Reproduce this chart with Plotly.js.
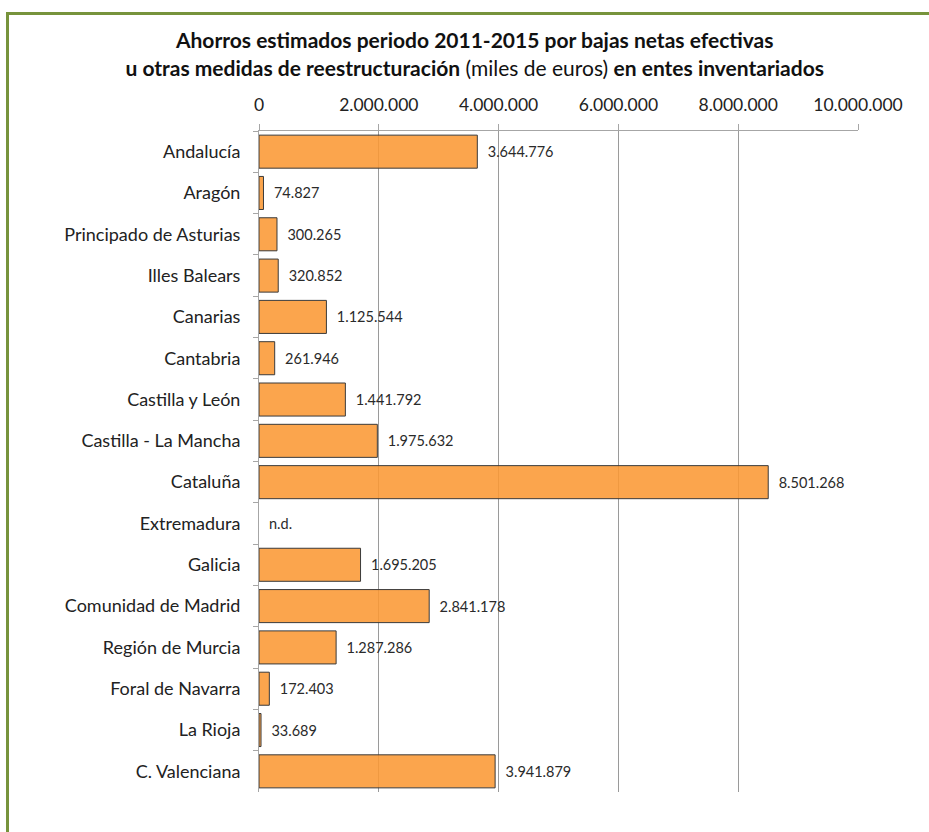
<!DOCTYPE html>
<html>
<head>
<meta charset="utf-8">
<script src="https://cdn.plot.ly/plotly-3.0.1.min.js"></script>
<style>
html,body{margin:0;padding:0;background:#fff;}
#frame{position:absolute;left:6px;top:12px;width:923px;height:820px;border-left:3px solid #77933C;border-top:3px solid #77933C;box-sizing:border-box;}
#chart{position:absolute;left:0;top:0;width:929px;height:832px;}
</style>
</head>
<body>
<div id="chart"></div>
<div id="frame"></div>
<script>
const categories = ["Andalucía","Aragón","Principado de Asturias","Illes Balears","Canarias","Cantabria","Castilla y León","Castilla - La Mancha","Cataluña","Extremadura","Galicia","Comunidad de Madrid","Región de Murcia","Foral de Navarra","La Rioja","C. Valenciana"];
const savings = [3644776,74827,300265,320852,1125544,261946,1441792,1975632,8501268,null,1695205,2841178,1287286,172403,33689,3941879];
const missingLabel = "n.d.";
const tickValues = [0,2000000,4000000,6000000,8000000,10000000];

const FONT = "Lato, 'Open Sans', sans-serif";

const trace = {
  type: "bar",
  orientation: "h",
  y: categories,
  x: savings,
  marker: {color: "rgba(251,152,52,0.88)", line: {color: "#3a3a3a", width: 1}},
  texttemplate: "\u00a0\u00a0%{x:,d}",
  textposition: "outside",
  textfont: {family: FONT, size: 14.5, color: "#2a2a2a"},
  cliponaxis: false,
  hoverinfo: "skip"
};

const annotations = [];
categories.forEach((c, i) => {
  if (savings[i] === null) {
    annotations.push({x: 0, y: c, xref: "x", yref: "y", text: missingLabel, showarrow: false,
      xanchor: "left", xshift: 8, font: {family: FONT, size: 14.5, color: "#2a2a2a"}});
  }
});

const layout = {
  width: 929, height: 832,
  margin: {l: 259, r: 71, t: 131, b: 40},
  paper_bgcolor: "#fff", plot_bgcolor: "#fff",
  separators: ",.",
  showlegend: false,
  bargap: 0.2,
  font: {family: FONT, color: "#222"},
  title: {
    text: "<b>Ahorros estimados periodo 2011-2015 por bajas netas efectivas</b><br><b>u otras medidas de reestructuración</b> (miles de euros) <b>en entes inventariados</b>",
    font: {family: FONT, size: 21, color: "#111"},
    x: 0.511, xanchor: "center", xref: "container",
    y: 0.942, yanchor: "top", yref: "container"
  },
  xaxis: {
    side: "top",
    range: [0, 10000000],
    tickvals: tickValues,
    tickformat: ",d",
    showgrid: true, gridcolor: "#9a9a9a", gridwidth: 1,
    showline: true, linecolor: "#a6a6a6", linewidth: 1,
    ticks: "outside", ticklen: 6, tickcolor: "#a6a6a6",
    ticklabelstandoff: 6,
    tickfont: {family: FONT, size: 17.5, color: "#222"},
    zeroline: false, fixedrange: true
  },
  yaxis: {
    type: "category",
    autorange: "reversed",
    showline: true, linecolor: "#a6a6a6", linewidth: 1,
    ticks: "outside", ticklen: 5, tickcolor: "#a6a6a6",
    tickson: "boundaries",
    ticklabelstandoff: 14,
    tickfont: {family: FONT, size: 18, color: "#222"},
    showgrid: false, fixedrange: true
  },
  annotations: annotations
};

Plotly.newPlot("chart", [trace], layout, {displayModeBar: false, staticPlot: true});
</script>
</body>
</html>
